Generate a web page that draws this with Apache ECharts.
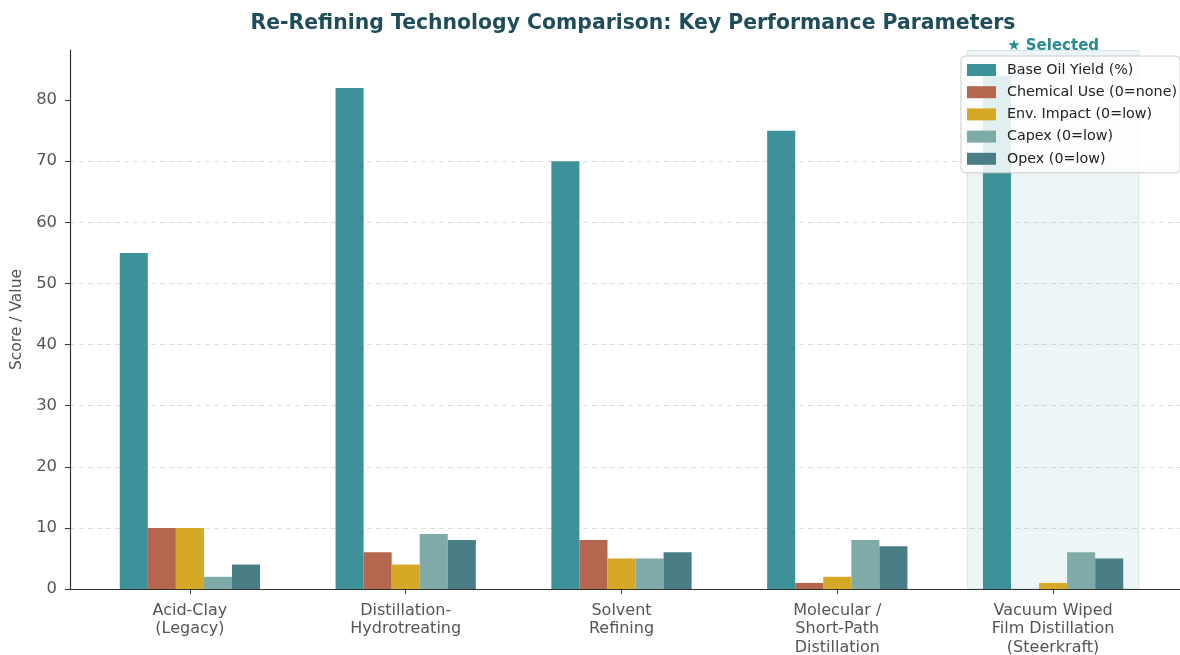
<!DOCTYPE html>
<html><head><meta charset="utf-8">
<script src="https://cdn.jsdelivr.net/npm/echarts@6/dist/echarts.min.js"></script>
<style>html,body{margin:0;padding:0;background:#fff}#c{width:1180px;height:655px}</style>
</head><body><div id="c"></div>
<script>
const categories = ['Acid-Clay\n(Legacy)', 'Distillation-\nHydrotreating', 'Solvent\nRefining', 'Molecular /\nShort-Path\nDistillation', 'Vacuum Wiped\nFilm Distillation\n(Steerkraft)'];
const seriesNames = ['Base Oil Yield (%)', 'Chemical Use (0=none)', 'Env. Impact (0=low)', 'Capex (0=low)', 'Opex (0=low)'];
const baseOilYield = [55, 82, 70, 75, 84];
const chemicalUse = [10, 6, 8, 1, 0];
const envImpact = [10, 4, 5, 2, 1];
const capex = [2, 9, 5, 8, 6];
const opex = [4, 8, 6, 7, 5];
const selectedIndex = 4;
const yMax = 88.2;
const yTicks = [0, 10, 20, 30, 40, 50, 60, 70, 80];

const colors = ['#3e9199', '#b5664e', '#d5a826', '#7eaaa8', '#4a7e87'];
const values = [baseOilYield, chemicalUse, envImpact, capex, opex];
const highlight = categories.map((c, i) => i === selectedIndex ? yMax : null);

const FONT = 'DejaVu Sans';
const chart = echarts.init(document.getElementById('c'), null, {renderer: 'canvas'});
const TOP = 50, BOTTOM = 66;
const gridBase = {top: TOP, bottom: BOTTOM, containLabel: false, outerBoundsMode: 'none'};

const series = values.map((v, i) => ({
  name: seriesNames[i], type: 'bar', xAxisIndex: 1, yAxisIndex: 1,
  data: v, barGap: '0%', barCategoryGap: '35%', z: 3,
  itemStyle: {color: colors[i]},
  emphasis: {disabled: true}
}));
series.unshift({
  name: 'sel', type: 'bar', xAxisIndex: 2, yAxisIndex: 2, data: highlight,
  barCategoryGap: '20%', z: 1, silent: true,
  itemStyle: {color: 'rgba(63,146,153,0.09)', borderColor: 'rgba(63,146,153,0.18)', borderWidth: 1},
  label: {show: true, position: 'top', distance: -4, formatter: '★ Selected',
    color: '#2a8a8f', fontFamily: FONT, fontWeight: 'bold', fontSize: 15}
});

chart.setOption({
  animation: false,
  title: {text: 'Re-Refining Technology Comparison: Key Performance Parameters',
    left: 628, top: 9, textAlign: 'center',
    textStyle: {fontFamily: FONT, fontWeight: 'bold', fontSize: 20.4, color: '#1f4e5a'}},
  legend: {data: seriesNames, orient: 'vertical', right: 0, top: 56, icon: 'rect',
    itemWidth: 29, itemHeight: 12, itemGap: 8.2, padding: [7, 3, 7, 6],
    backgroundColor: 'rgba(255,255,255,0.85)', borderColor: '#cccccc', borderWidth: 1, borderRadius: 4,
    textStyle: {fontFamily: FONT, fontSize: 14.3, color: '#222', lineHeight: 14, padding: [0, 0, 0, 6]}},
  grid: [
    Object.assign({left: 70, right: 0}, gridBase),
    Object.assign({left: 82, right: 19}, gridBase),
    Object.assign({left: 82, right: 19}, gridBase)
  ],
  xAxis: [
    {type: 'value', gridIndex: 0, min: 0, max: 1, axisLabel: {show: false}, axisTick: {show: false},
      splitLine: {show: false}, axisLine: {show: true, lineStyle: {color: '#333', width: 1.2}}},
    {type: 'category', gridIndex: 1, data: categories, axisLine: {show: false},
      axisTick: {show: true, alignWithLabel: true, length: 5, lineStyle: {color: '#333'}},
      axisLabel: {fontFamily: FONT, fontSize: 16, color: '#555', lineHeight: 18.8, margin: 12, interval: 0}},
    {type: 'category', gridIndex: 2, data: categories, show: false}
  ],
  yAxis: [
    {type: 'value', gridIndex: 0, min: 0, max: yMax, interval: 10,
      name: 'Score / Value', nameLocation: 'middle', nameGap: 45,
      nameTextStyle: {fontFamily: FONT, fontSize: 15.5, color: '#555'},
      axisLine: {show: true, lineStyle: {color: '#333', width: 1.2}},
      axisTick: {show: true, length: 5, lineStyle: {color: '#333'}, customValues: yTicks},
      axisLabel: {fontFamily: FONT, fontSize: 16.4, color: '#555', margin: 13, customValues: yTicks},
      splitLine: {show: true, showMaxLine: false, lineStyle: {color: '#dddddd', type: [5, 4], width: 1}}},
    {type: 'value', gridIndex: 1, min: 0, max: yMax, show: false, splitLine: {show: false}},
    {type: 'value', gridIndex: 2, min: 0, max: yMax, show: false, splitLine: {show: false}}
  ],
  series: series
});
</script></body></html>
